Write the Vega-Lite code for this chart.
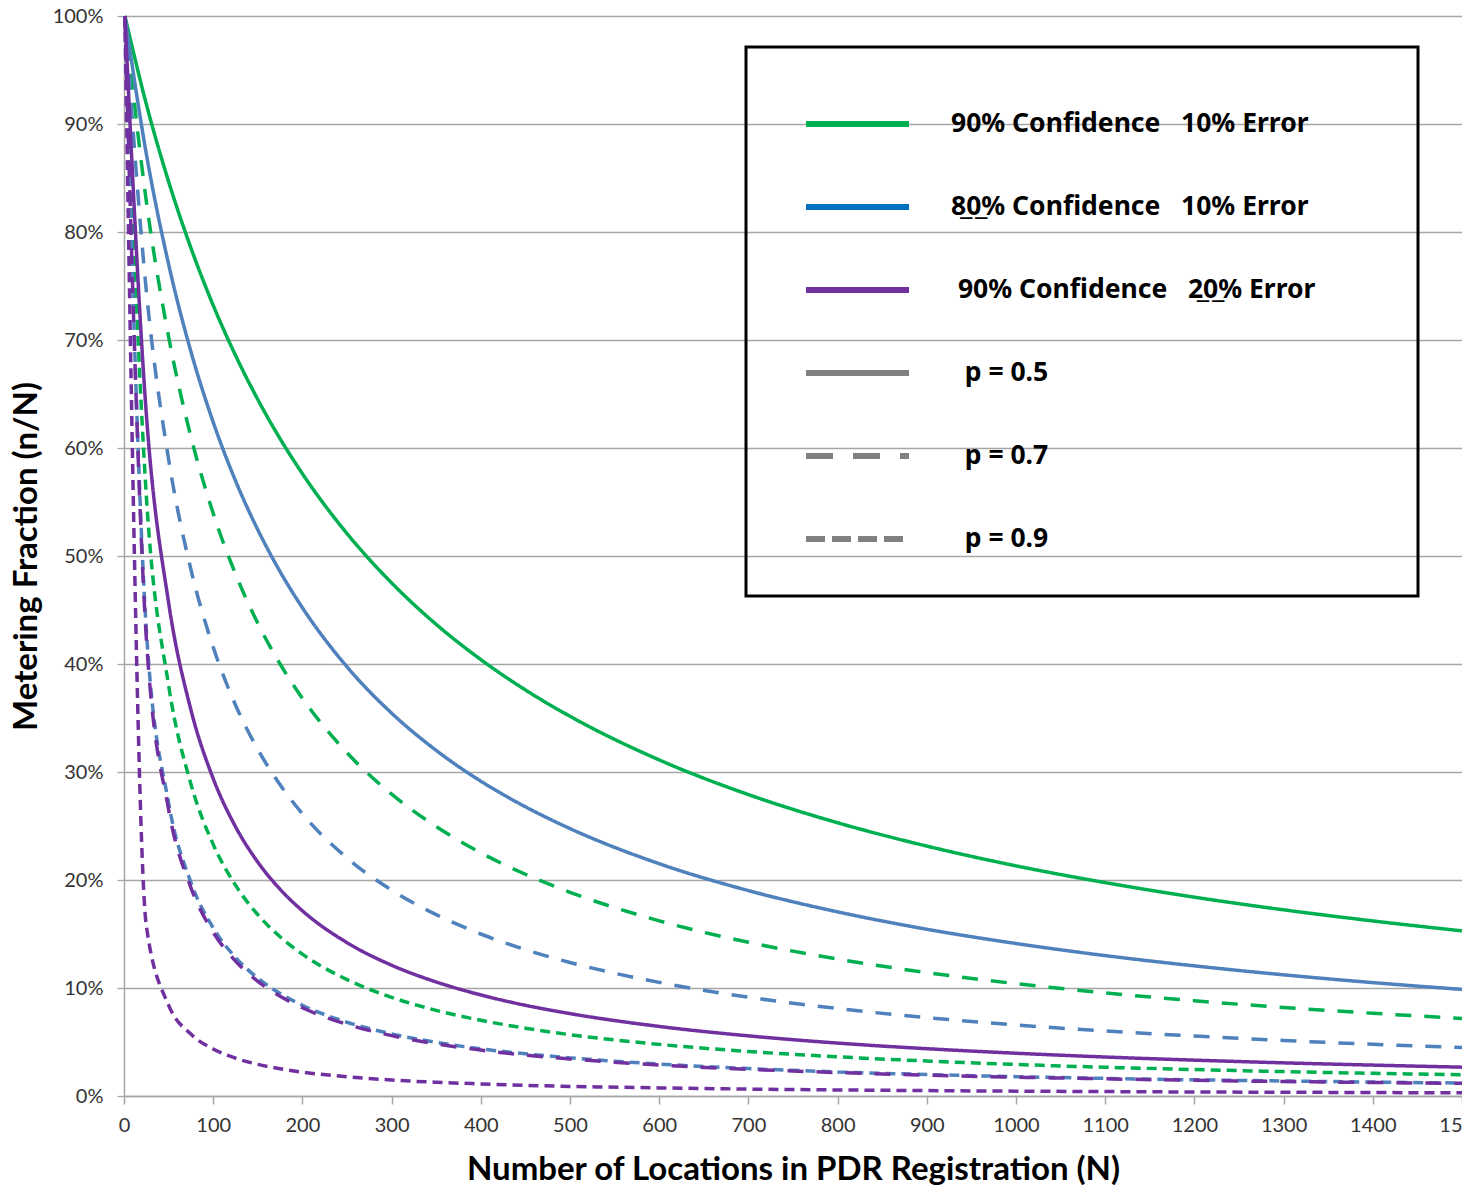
{
  "$schema": "https://vega.github.io/schema/vega-lite/v6.json",
  "width": 1338,
  "height": 1080,
  "autosize": {"type": "none"},
  "padding": {"left": 124, "top": 16, "right": 0, "bottom": 94},
  "background": "white",
  "datasets": {
    "curves": [
      {"s":"g5","N":1,"f":1},{"s":"g5","N":25,"f":0.9185},{"s":"g5","N":50,"f":0.8467},{"s":"g5","N":75,"f":0.7853},{"s":"g5","N":100,"f":0.7321},{"s":"g5","N":125,"f":0.6858},{"s":"g5","N":150,"f":0.6449},{"s":"g5","N":175,"f":0.6086},{"s":"g5","N":200,"f":0.5762},{"s":"g5","N":250,"f":0.5208},{"s":"g5","N":300,"f":0.4751},{"s":"g5","N":350,"f":0.4367},{"s":"g5","N":400,"f":0.4041},{"s":"g5","N":450,"f":0.3760},{"s":"g5","N":500,"f":0.3516},{"s":"g5","N":600,"f":0.3112},{"s":"g5","N":700,"f":0.2791},{"s":"g5","N":800,"f":0.2530},{"s":"g5","N":900,"f":0.2314},{"s":"g5","N":1000,"f":0.2131},{"s":"g5","N":1100,"f":0.1976},{"s":"g5","N":1200,"f":0.1841},{"s":"g5","N":1300,"f":0.1724},{"s":"g5","N":1400,"f":0.1621},{"s":"g5","N":1500,"f":0.1529},
      {"s":"g7","N":1,"f":1},{"s":"g7","N":25,"f":0.8286},{"s":"g7","N":50,"f":0.7030},{"s":"g7","N":75,"f":0.6105},{"s":"g7","N":100,"f":0.5395},{"s":"g7","N":125,"f":0.4833},{"s":"g7","N":150,"f":0.4377},{"s":"g7","N":175,"f":0.4000},{"s":"g7","N":200,"f":0.3683},{"s":"g7","N":250,"f":0.3178},{"s":"g7","N":300,"f":0.2795},{"s":"g7","N":350,"f":0.2495},{"s":"g7","N":400,"f":0.2252},{"s":"g7","N":450,"f":0.2053},{"s":"g7","N":500,"f":0.1886},{"s":"g7","N":600,"f":0.1622},{"s":"g7","N":700,"f":0.1423},{"s":"g7","N":800,"f":0.1268},{"s":"g7","N":900,"f":0.1143},{"s":"g7","N":1000,"f":0.1040},{"s":"g7","N":1100,"f":0.0955},{"s":"g7","N":1200,"f":0.0882},{"s":"g7","N":1300,"f":0.0820},{"s":"g7","N":1400,"f":0.0766},{"s":"g7","N":1500,"f":0.0718},
      {"s":"g9","N":1,"f":1},{"s":"g9","N":25,"f":0.5561},{"s":"g9","N":50,"f":0.3803},{"s":"g9","N":75,"f":0.2889},{"s":"g9","N":100,"f":0.2330},{"s":"g9","N":125,"f":0.1952},{"s":"g9","N":150,"f":0.1679},{"s":"g9","N":175,"f":0.1474},{"s":"g9","N":200,"f":0.1313},{"s":"g9","N":250,"f":0.1078},{"s":"g9","N":300,"f":0.0914},{"s":"g9","N":350,"f":0.0793},{"s":"g9","N":400,"f":0.0701},{"s":"g9","N":450,"f":0.0628},{"s":"g9","N":500,"f":0.0568},{"s":"g9","N":600,"f":0.0478},{"s":"g9","N":700,"f":0.0412},{"s":"g9","N":800,"f":0.0363},{"s":"g9","N":900,"f":0.0324},{"s":"g9","N":1000,"f":0.0292},{"s":"g9","N":1100,"f":0.0266},{"s":"g9","N":1200,"f":0.0245},{"s":"g9","N":1300,"f":0.0226},{"s":"g9","N":1400,"f":0.0210},{"s":"g9","N":1500,"f":0.0197},
      {"s":"b5","N":1,"f":1},{"s":"b5","N":25,"f":0.8725},{"s":"b5","N":50,"f":0.7702},{"s":"b5","N":75,"f":0.6893},{"s":"b5","N":100,"f":0.6239},{"s":"b5","N":125,"f":0.5697},{"s":"b5","N":150,"f":0.5243},{"s":"b5","N":175,"f":0.4855},{"s":"b5","N":200,"f":0.4521},{"s":"b5","N":250,"f":0.3974},{"s":"b5","N":300,"f":0.3545},{"s":"b5","N":350,"f":0.3200},{"s":"b5","N":400,"f":0.2915},{"s":"b5","N":450,"f":0.2678},{"s":"b5","N":500,"f":0.2476},{"s":"b5","N":600,"f":0.2151},{"s":"b5","N":700,"f":0.1902},{"s":"b5","N":800,"f":0.1705},{"s":"b5","N":900,"f":0.1544},{"s":"b5","N":1000,"f":0.1412},{"s":"b5","N":1100,"f":0.1300},{"s":"b5","N":1200,"f":0.1205},{"s":"b5","N":1300,"f":0.1122},{"s":"b5","N":1400,"f":0.1050},{"s":"b5","N":1500,"f":0.0987},
      {"s":"b7","N":1,"f":1},{"s":"b7","N":25,"f":0.7458},{"s":"b7","N":50,"f":0.5896},{"s":"b7","N":75,"f":0.4875},{"s":"b7","N":100,"f":0.4156},{"s":"b7","N":125,"f":0.3621},{"s":"b7","N":150,"f":0.3209},{"s":"b7","N":175,"f":0.2881},{"s":"b7","N":200,"f":0.2613},{"s":"b7","N":250,"f":0.2204},{"s":"b7","N":300,"f":0.1906},{"s":"b7","N":350,"f":0.1679},{"s":"b7","N":400,"f":0.1500},{"s":"b7","N":450,"f":0.1355},{"s":"b7","N":500,"f":0.1236},{"s":"b7","N":600,"f":0.1052},{"s":"b7","N":700,"f":0.0915},{"s":"b7","N":800,"f":0.0810},{"s":"b7","N":900,"f":0.0726},{"s":"b7","N":1000,"f":0.0658},{"s":"b7","N":1100,"f":0.0602},{"s":"b7","N":1200,"f":0.0555},{"s":"b7","N":1300,"f":0.0514},{"s":"b7","N":1400,"f":0.0479},{"s":"b7","N":1500,"f":0.0449},
      {"s":"b9","N":1,"f":1},{"s":"b9","N":25,"f":0.4320},{"s":"b9","N":50,"f":0.2714},{"s":"b9","N":75,"f":0.1978},{"s":"b9","N":100,"f":0.1556},{"s":"b9","N":125,"f":0.1283},{"s":"b9","N":150,"f":0.1091},{"s":"b9","N":175,"f":0.0949},{"s":"b9","N":200,"f":0.0840},{"s":"b9","N":250,"f":0.0683},{"s":"b9","N":300,"f":0.0575},{"s":"b9","N":350,"f":0.0497},{"s":"b9","N":400,"f":0.0437},{"s":"b9","N":450,"f":0.0391},{"s":"b9","N":500,"f":0.0353},{"s":"b9","N":600,"f":0.0296},{"s":"b9","N":700,"f":0.0254},{"s":"b9","N":800,"f":0.0223},{"s":"b9","N":900,"f":0.0199},{"s":"b9","N":1000,"f":0.0179},{"s":"b9","N":1100,"f":0.0163},{"s":"b9","N":1200,"f":0.0150},{"s":"b9","N":1300,"f":0.0139},{"s":"b9","N":1400,"f":0.0129},{"s":"b9","N":1500,"f":0.0120},
      {"s":"p5","N":1,"f":1},{"s":"p5","N":25,"f":0.6319},{"s":"p5","N":50,"f":0.4568},{"s":"p5","N":75,"f":0.3576},{"s":"p5","N":100,"f":0.2939},{"s":"p5","N":125,"f":0.2494},{"s":"p5","N":150,"f":0.2166},{"s":"p5","N":175,"f":0.1914},{"s":"p5","N":200,"f":0.1715},{"s":"p5","N":250,"f":0.1420},{"s":"p5","N":300,"f":0.1211},{"s":"p5","N":350,"f":0.1056},{"s":"p5","N":400,"f":0.0936},{"s":"p5","N":450,"f":0.0840},{"s":"p5","N":500,"f":0.0763},{"s":"p5","N":600,"f":0.0644},{"s":"p5","N":700,"f":0.0557},{"s":"p5","N":800,"f":0.0490},{"s":"p5","N":900,"f":0.0438},{"s":"p5","N":1000,"f":0.0396},{"s":"p5","N":1100,"f":0.0361},{"s":"p5","N":1200,"f":0.0332},{"s":"p5","N":1300,"f":0.0307},{"s":"p5","N":1400,"f":0.0286},{"s":"p5","N":1500,"f":0.0267},
      {"s":"p7","N":1,"f":1},{"s":"p7","N":25,"f":0.4245},{"s":"p7","N":50,"f":0.2654},{"s":"p7","N":75,"f":0.1930},{"s":"p7","N":100,"f":0.1517},{"s":"p7","N":125,"f":0.1249},{"s":"p7","N":150,"f":0.1062},{"s":"p7","N":175,"f":0.0923},{"s":"p7","N":200,"f":0.0817},{"s":"p7","N":250,"f":0.0664},{"s":"p7","N":300,"f":0.0559},{"s":"p7","N":350,"f":0.0483},{"s":"p7","N":400,"f":0.0425},{"s":"p7","N":450,"f":0.0379},{"s":"p7","N":500,"f":0.0343},{"s":"p7","N":600,"f":0.0287},{"s":"p7","N":700,"f":0.0247},{"s":"p7","N":800,"f":0.0217},{"s":"p7","N":900,"f":0.0193},{"s":"p7","N":1000,"f":0.0174},{"s":"p7","N":1100,"f":0.0159},{"s":"p7","N":1200,"f":0.0145},{"s":"p7","N":1300,"f":0.0134},{"s":"p7","N":1400,"f":0.0125},{"s":"p7","N":1500,"f":0.0117},
      {"s":"p9","N":1,"f":1},{"s":"p9","N":25,"f":0.1579},{"s":"p9","N":50,"f":0.0841},{"s":"p9","N":75,"f":0.0573},{"s":"p9","N":100,"f":0.0435},{"s":"p9","N":125,"f":0.0350},{"s":"p9","N":150,"f":0.0293},{"s":"p9","N":175,"f":0.0252},{"s":"p9","N":200,"f":0.0221},{"s":"p9","N":250,"f":0.0178},{"s":"p9","N":300,"f":0.0148},{"s":"p9","N":350,"f":0.0127},{"s":"p9","N":400,"f":0.0112},{"s":"p9","N":450,"f":0.0099},{"s":"p9","N":500,"f":0.0089},{"s":"p9","N":600,"f":0.0075},{"s":"p9","N":700,"f":0.0064},{"s":"p9","N":800,"f":0.0056},{"s":"p9","N":900,"f":0.0050},{"s":"p9","N":1000,"f":0.0045},{"s":"p9","N":1100,"f":0.0041},{"s":"p9","N":1200,"f":0.0037},{"s":"p9","N":1300,"f":0.0035},{"s":"p9","N":1400,"f":0.0032},{"s":"p9","N":1500,"f":0.0030}
    ],
    "keys": [
      {"entry": "90% Confidence\u00a0\u00a0\u00a010% Error"},
      {"entry": "8\u03320\u0332% Confidence\u00a0\u00a0\u00a010% Error"},
      {"entry": "\u200b\u00a090% Confidence\u00a0\u00a0\u00a02\u03320\u0332% Error\u00a0\u00a0\u00a0\u00a0\u00a0\u00a0\u00a0\u00a0\u00a0\u200b"},
      {"entry": "\u200b\u00a0\u00a0p = 0.5"},
      {"entry": "\u200b\u00a0\u00a0p = 0.7"},
      {"entry": "\u200b\u00a0\u00a0p = 0.9"}
    ]
  },
  "layer": [
    {
      "data": {"name": "curves"},
      "mark": {"type": "line", "strokeWidth": 3.5, "interpolate": "monotone"},
      "encoding": {
        "x": {
          "field": "N", "type": "quantitative",
          "scale": {"domain": [0, 1500], "nice": false, "zero": true},
          "title": "Number of Locations in PDR Registration (N)",
          "axis": {
            "values": [0,100,200,300,400,500,600,700,800,900,1000,1100,1200,1300,1400,1500],
            "format": "d",
            "grid": false, "tickSize": 8, "labelPadding": 11, "labelFlush": false, "labelOverlap": false,
            "labelFontSize": 20, "labelColor": "#333333", "domainColor": "#A6A6A6", "tickColor": "#A6A6A6",
            "domainWidth": 1.5, "tickWidth": 1.5,
            "titleFontSize": 33, "titleFontWeight": "bold", "titleColor": "black", "titlePadding": 18
          }
        },
        "y": {
          "field": "f", "type": "quantitative",
          "scale": {"domain": [0, 1], "nice": false},
          "title": "Metering Fraction (n/N)",
          "axis": {
            "values": [0,0.1,0.2,0.3,0.4,0.5,0.6,0.7,0.8,0.9,1],
            "format": ".0%", "grid": true, "gridColor": "#A6A6A6", "gridWidth": 1.3,
            "tickSize": 7, "labelPadding": 14, "labelFlush": false, "labelOverlap": false,
            "labelFontSize": 20, "labelColor": "#333333", "domainColor": "#A6A6A6", "tickColor": "#A6A6A6",
            "domainWidth": 1.5, "tickWidth": 1.3,
            "titleFontSize": 33, "titleFontWeight": "bold", "titleColor": "black", "titlePadding": 9
          }
        },
        "color": {
          "field": "s", "type": "nominal",
          "scale": {"domain": ["g5","g7","g9","b5","b7","b9","p5","p7","p9"],
                    "range": ["#00B050","#00B050","#00B050","#4F81BD","#4F81BD","#4F81BD","#7030A0","#7030A0","#7030A0"]},
          "legend": null
        },
        "strokeDash": {
          "field": "s", "type": "nominal",
          "scale": {"domain": ["g5","g7","g9","b5","b7","b9","p5","p7","p9"],
                    "range": [[1,0],[16,13],[10,6],[1,0],[16,13],[10,6],[1,0],[16,13],[10,6]]},
          "legend": null
        }
      }
    },
    {
      "data": {"name": "keys"},
      "mark": {"type": "point", "opacity": 0},
      "encoding": {
        "color": {
          "field": "entry", "type": "nominal",
          "scale": {
            "domain": [
              "90% Confidence\u00a0\u00a0\u00a010% Error",
              "8\u03320\u0332% Confidence\u00a0\u00a0\u00a010% Error",
              "\u200b\u00a090% Confidence\u00a0\u00a0\u00a02\u03320\u0332% Error\u00a0\u00a0\u00a0\u00a0\u00a0\u00a0\u00a0\u00a0\u00a0\u200b",
              "\u200b\u00a0\u00a0p = 0.5", "\u200b\u00a0\u00a0p = 0.7", "\u200b\u00a0\u00a0p = 0.9"
            ],
            "range": ["#00B050","#0070C0","#7030A0","#7F7F7F","#7F7F7F","#7F7F7F"]
          },
          "legend": {
            "title": ".", "titleOpacity": 0, "titleFontSize": 14, "titlePadding": 6, "titleLimit": 1000,
            "orient": "none", "legendX": 622, "legendY": 31,
            "padding": 40, "strokeColor": "black",
            "symbolType": "stroke", "symbolSize": 10609, "symbolStrokeWidth": 6, "symbolOpacity": 1,
            "symbolOffset": 17, "labelOffset": 39, "clipHeight": 34, "rowPadding": 49,
            "labelFont": "Noto Sans", "labelFontSize": 26.5, "labelFontWeight": "bold", "labelColor": "black", "labelLimit": 900,
            "encode": {"legend": {"update": {"strokeWidth": {"value": 3}}}}
          }
        },
        "strokeDash": {
          "field": "entry", "type": "nominal",
          "scale": {
            "domain": [
              "90% Confidence\u00a0\u00a0\u00a010% Error",
              "8\u03320\u0332% Confidence\u00a0\u00a0\u00a010% Error",
              "\u200b\u00a090% Confidence\u00a0\u00a0\u00a02\u03320\u0332% Error\u00a0\u00a0\u00a0\u00a0\u00a0\u00a0\u00a0\u00a0\u00a0\u200b",
              "\u200b\u00a0\u00a0p = 0.5", "\u200b\u00a0\u00a0p = 0.7", "\u200b\u00a0\u00a0p = 0.9"
            ],
            "range": [[1,0],[1,0],[1,0],[1,0],[27,20],[19,7]]
          }
        }
      }
    }
  ],
  "resolve": {
    "scale": {"color": "independent", "strokeDash": "independent"},
    "legend": {"color": "independent", "strokeDash": "independent"}
  },
  "config": {
    "view": {"stroke": null},
    "font": "Lato",
    "axis": {"labelFont": "Lato", "titleFont": "Lato"},
    "legend": {"strokeWidth": 3}
  }
}
